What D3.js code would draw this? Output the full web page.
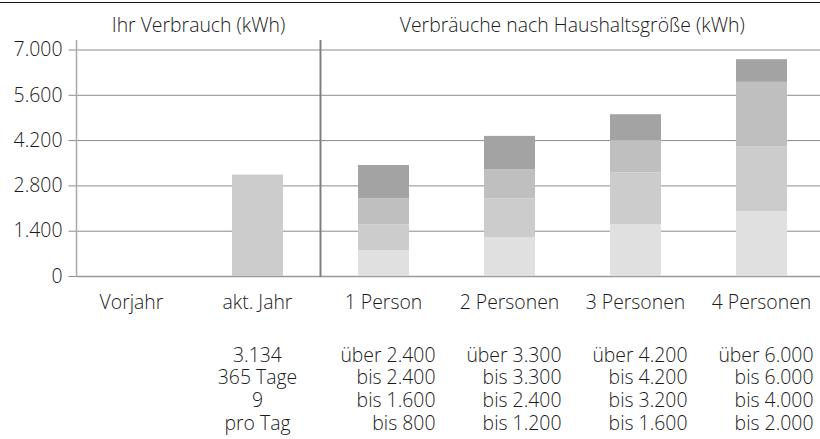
<!DOCTYPE html>
<html>
<head>
<meta charset="utf-8">
<script src="https://cdn.jsdelivr.net/npm/d3@7"></script>
<style>
  body { margin: 0; background: #fff; }
  svg { display: block; font-family: "Open Sans", sans-serif; }
  text { fill: #1a1a1a; font-size: 19.4px; font-weight: 350; }
</style>
</head>
<body>
<div id="chart"></div>
<script>
// Categories along the x axis
const categories = ['Vorjahr', 'akt. Jahr', '1 Person', '2 Personen', '3 Personen', '4 Personen'];
const ownCategories = ['Vorjahr', 'akt. Jahr'];
const householdCategories = ['1 Person', '2 Personen', '3 Personen', '4 Personen'];

// Your consumption (kWh)
const ownValues = [0, 3134];
const ownInfo = ['3.134', '365 Tage', '9', 'pro Tag'];

// Stacked segments per household size (kWh), bottom to top
const segBis1 = [800, 1200, 1600, 2000];
const segBis2 = [800, 1200, 1600, 2000];
const segBis3 = [800, 900, 1000, 2000];
const segUeber = [1030, 1030, 800, 700];

// Range labels under each household column, top row first
const rangeLabels = [
    ['über 2.400', 'bis 2.400', 'bis 1.600', 'bis 800'],
    ['über 3.300', 'bis 3.300', 'bis 2.400', 'bis 1.200'],
    ['über 4.200', 'bis 4.200', 'bis 3.200', 'bis 1.600'],
    ['über 6.000', 'bis 6.000', 'bis 4.000', 'bis 2.000'],
];

const yTicks = [0, 1400, 2800, 4200, 5600, 7000];
const segColors = ['#e0e0e0', '#cccccc', '#bfbfbf', '#a3a3a3'];

const width = 820;
const height = 439;

const de = d3.formatLocale({ decimal: ',', thousands: '.', grouping: [3], currency: ['', ' €'] });
const fmt = de.format(',');

const svg = d3.select('#chart')
    .append('svg')
    .attr('width', width)
    .attr('height', height);

const x = d3.scaleBand()
    .domain(categories)
    .range([68.5, 824.5])
    .paddingInner(0.595)
    .paddingOuter(0.2975);

const y = d3.scaleLinear()
    .domain([0, 7000])
    .range([276, 49.5]);

const axisX = 76.5;
const sepX = (x('akt. Jahr') + x.bandwidth() + x('1 Person')) / 2;

// top border
svg.append('line')
    .attr('x1', 0).attr('x2', width)
    .attr('y1', 2.5).attr('y2', 2.5)
    .attr('stroke', '#111').attr('stroke-width', 1.2);

// headers
svg.append('text')
    .attr('x', (axisX + sepX) / 2).attr('y', 32)
    .attr('text-anchor', 'middle')
    .text('Ihr Verbrauch (kWh)');

svg.append('text')
    .attr('x', (sepX + width) / 2 + 2).attr('y', 32)
    .attr('text-anchor', 'middle')
    .text('Verbräuche nach Haushaltsgröße (kWh)');

// gridlines
svg.append('g')
    .selectAll('line')
    .data(yTicks)
    .join('line')
    .attr('x1', axisX).attr('x2', width)
    .attr('y1', d => y(d) + 0.5).attr('y2', d => y(d) + 0.5)
    .attr('stroke', d => d === 0 ? '#999' : '#8c8c8c')
    .attr('stroke-width', d => d === 0 ? 1.5 : 1);

// y axis
const yAxis = d3.axisLeft(y)
    .tickValues(yTicks)
    .tickSize(8)
    .tickPadding(6)
    .tickFormat(fmt);

const yg = svg.append('g')
    .attr('transform', `translate(${axisX},0)`)
    .call(yAxis);
yg.select('.domain').remove();
yg.selectAll('.tick line').attr('stroke', '#8c8c8c');
yg.selectAll('.tick text')
    .attr('fill', '#1a1a1a')
    .style('font-size', '19.4px')
    .style('font-weight', 350)
    .style('font-family', '"Open Sans", sans-serif');

svg.append('line')
    .attr('x1', axisX).attr('x2', axisX)
    .attr('y1', 40).attr('y2', 276.5)
    .attr('stroke', '#a8a8a8').attr('stroke-width', 1.5);

// own bars
svg.append('g')
    .selectAll('rect')
    .data(ownCategories.map((c, i) => ({ c, v: ownValues[i] })).filter(d => d.v > 0))
    .join('rect')
    .attr('x', d => x(d.c))
    .attr('width', x.bandwidth())
    .attr('y', d => y(d.v))
    .attr('height', d => y(0) - y(d.v))
    .attr('fill', '#cccccc');

// stacked household bars
const table = householdCategories.map((c, i) => ({
    cat: c, s1: segBis1[i], s2: segBis2[i], s3: segBis3[i], s4: segUeber[i],
}));
const stack = d3.stack().keys(['s1', 's2', 's3', 's4'])(table);

svg.append('g')
    .selectAll('g')
    .data(stack)
    .join('g')
    .attr('fill', (d, i) => segColors[i])
    .selectAll('rect')
    .data(d => d)
    .join('rect')
    .attr('x', d => x(d.data.cat))
    .attr('width', x.bandwidth())
    .attr('y', d => y(d[1]))
    .attr('height', d => y(d[0]) - y(d[1]));

// separator
svg.append('line')
    .attr('x1', sepX).attr('x2', sepX)
    .attr('y1', 40).attr('y2', 277)
    .attr('stroke', '#808080').attr('stroke-width', 2);

// category labels
svg.append('g')
    .selectAll('text')
    .data(categories)
    .join('text')
    .attr('x', d => x(d) + x.bandwidth() / 2)
    .attr('y', 309)
    .attr('text-anchor', 'middle')
    .text(d => d);

// info rows
const rowY = [361.5, 384.3, 407, 429.7];

svg.append('g')
    .selectAll('text')
    .data(ownInfo)
    .join('text')
    .attr('x', x('akt. Jahr') + x.bandwidth() / 2)
    .attr('y', (d, i) => rowY[i])
    .attr('text-anchor', 'middle')
    .text(d => d);

householdCategories.forEach((c, ci) => {
    svg.append('g')
        .selectAll('text')
        .data(rangeLabels[ci])
        .join('text')
        .attr('x', x(c) + x.bandwidth() / 2 + 52)
        .attr('y', (d, i) => rowY[i])
        .attr('text-anchor', 'end')
        .text(d => d);
});
</script>
</body>
</html>
